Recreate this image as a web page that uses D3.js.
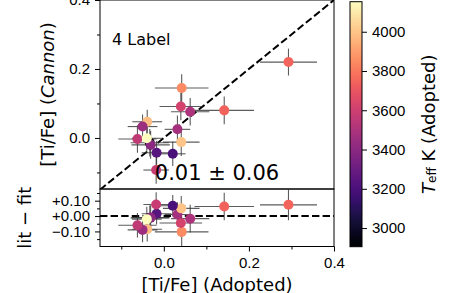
<!DOCTYPE html>
<html>
<head>
<meta charset="utf-8">
<script src="https://cdnjs.cloudflare.com/ajax/libs/d3/7.8.5/d3.min.js"></script>
<style>
	body { margin: 0; background: #fff; }
	svg { display: block; font-family: "DejaVu Sans", sans-serif; }
</style>
</head>
<body>
<div id="chart"></div>
<script>
// values
var litVals    = [0.293, 0.142, 0.042, 0.040, 0.062, 0.032, 0.041, 0.021, -0.017, -0.033, -0.031, -0.039, -0.050, -0.062, -0.040, -0.018];
var cannonVals = [0.220, 0.080, 0.145, 0.091, 0.076, 0.025, -0.012, -0.046, -0.043, -0.014, -0.020, 0.047, 0.033, -0.003, -0.001, -0.093];
var litErr     = [0.067, 0.070, 0.063, 0.050, 0.045, 0.030, 0.043, 0.030, 0.035, 0.045, 0.045, 0.035, 0.035, 0.045, 0.035, 0.030];
var cannonErr  = [0.039, 0.040, 0.040, 0.040, 0.040, 0.040, 0.040, 0.035, 0.035, 0.040, 0.040, 0.035, 0.035, 0.040, 0.040, 0.040];
var residVals  = [0.073, 0.062, -0.103, -0.045, -0.017, 0.010, 0.050, 0.067, 0.015, -0.012, -0.010, -0.086, -0.090, -0.060, -0.020, 0.075];
var residErr   = [0.100, 0.090, 0.100, 0.090, 0.090, 0.080, 0.080, 0.070, 0.070, 0.080, 0.080, 0.080, 0.080, 0.080, 0.080, 0.080];
var teffVals   = [3750, 3740, 3850, 3620, 3500, 3480, 4000, 3200, 3240, 2905, 3400, 3980, 3450, 3560, 4153, 3580];

var xTicks = [0.0, 0.2, 0.4];
var xMinor = [-0.1, 0.1, 0.3];
var yTopTicks = [0.0, 0.2, 0.4];
var yTopMinor = [-0.1, 0.1, 0.3];
var yBotTicks = [0.10, 0.00, -0.10];
var yBotMinor = [0.15, 0.05, -0.05, -0.15];
var cbarTicks = [3000, 3200, 3400, 3600, 3800, 4000];
var statText = "0.01 \u00b1 0.06";
var panelText = "4 Label";

var W = 449, H = 293;
var left = 100, right = 334;
var topY = 0, split = 189, bottomY = 246.5;

var svg = d3.select("#chart").append("svg")
	.attr("width", W)
	.attr("height", H);

var x = d3.scaleLinear().domain([-0.15, 0.4]).range([left, right]);
var yTop = d3.scaleLinear().domain([-0.148, 0.4]).range([split, topY]);
var yBot = d3.scaleLinear().domain([-0.198, 0.176]).range([bottomY, split]);
var color = d3.scaleSequential(d3.interpolateMagma).domain([2905, 4153]);

var pts = litVals.map(function(d, i) {
	return {lit: d, can: cannonVals[i], le: litErr[i], ce: cannonErr[i],
		res: residVals[i], re: residErr[i], teff: teffVals[i]};
});

var defs = svg.append("defs");
defs.append("clipPath").attr("id", "clipTop")
	.append("rect").attr("x", left).attr("y", topY).attr("width", right - left).attr("height", split - topY);
defs.append("clipPath").attr("id", "clipBot")
	.append("rect").attr("x", left).attr("y", split).attr("width", right - left).attr("height", bottomY - split);

function panel(yScale, clip, yval, yerr, refLine) {
	var g = svg.append("g").attr("clip-path", "url(#" + clip + ")");

	g.append("line")
		.attr("x1", x(refLine[0][0])).attr("y1", yScale(refLine[0][1]))
		.attr("x2", x(refLine[1][0])).attr("y2", yScale(refLine[1][1]))
		.attr("stroke", "#000")
		.attr("stroke-width", 2)
		.attr("stroke-dasharray", "7.4,3.2");

	g.selectAll(".hbar").data(pts).enter().append("line")
		.attr("x1", function(d) { return x(d.lit - d.le); })
		.attr("x2", function(d) { return x(d.lit + d.le); })
		.attr("y1", function(d) { return yScale(yval(d)); })
		.attr("y2", function(d) { return yScale(yval(d)); })
		.attr("stroke", "#333").attr("stroke-opacity", 0.8).attr("stroke-width", 1.1);

	g.selectAll(".vbar").data(pts).enter().append("line")
		.attr("x1", function(d) { return x(d.lit); })
		.attr("x2", function(d) { return x(d.lit); })
		.attr("y1", function(d) { return yScale(yval(d) - yerr(d)); })
		.attr("y2", function(d) { return yScale(yval(d) + yerr(d)); })
		.attr("stroke", "#333").attr("stroke-opacity", 0.8).attr("stroke-width", 1.1);

	g.selectAll("circle").data(pts).enter().append("circle")
		.attr("cx", function(d) { return x(d.lit); })
		.attr("cy", function(d) { return yScale(yval(d)); })
		.attr("r", 5)
		.attr("fill", function(d) { return color(d.teff); });
}

panel(yTop, "clipTop", function(d) { return d.can; }, function(d) { return d.ce; }, [[-0.15, -0.15], [0.4, 0.4]]);
panel(yBot, "clipBot", function(d) { return d.res; }, function(d) { return d.re; }, [[-0.15, 0], [0.4, 0]]);

function styleAxis(g) {
	g.select(".domain").remove();
	g.selectAll("text").attr("font-size", "15px").attr("fill", "#000");
	g.selectAll("line").attr("stroke", "#000");
}

// y axes, top panel
svg.append("g")
	.attr("transform", "translate(" + left + ",0)")
	.call(d3.axisLeft(yTop).tickValues(yTopTicks).tickFormat(d3.format(".1f")).tickSize(5).tickPadding(5))
	.call(styleAxis);
svg.append("g")
	.attr("transform", "translate(" + left + ",0)")
	.call(d3.axisLeft(yTop).tickValues(yTopMinor).tickFormat("").tickSize(3))
	.call(styleAxis);

// y axes, bottom panel
svg.append("g")
	.attr("transform", "translate(" + left + ",0)")
	.call(d3.axisLeft(yBot).tickValues(yBotTicks).tickSize(5).tickPadding(5)
		.tickFormat(function(d) { return (d < 0 ? "\u2212" : "+") + Math.abs(d).toFixed(2); }))
	.call(styleAxis);
svg.append("g")
	.attr("transform", "translate(" + left + ",0)")
	.call(d3.axisLeft(yBot).tickValues(yBotMinor).tickFormat("").tickSize(3))
	.call(styleAxis);

// x axis, bottom
svg.append("g")
	.attr("transform", "translate(0," + bottomY + ")")
	.call(d3.axisBottom(x).tickValues(xTicks).tickFormat(d3.format(".1f")).tickSize(5).tickPadding(6))
	.call(styleAxis);
svg.append("g")
	.attr("transform", "translate(0," + bottomY + ")")
	.call(d3.axisBottom(x).tickValues(xMinor).tickFormat("").tickSize(3))
	.call(styleAxis);

// frames
svg.append("rect")
	.attr("x", left).attr("y", topY)
	.attr("width", right - left).attr("height", split - topY)
	.attr("fill", "none").attr("stroke", "#000").attr("stroke-width", 1);
svg.append("rect")
	.attr("x", left).attr("y", split)
	.attr("width", right - left).attr("height", bottomY - split)
	.attr("fill", "none").attr("stroke", "#000").attr("stroke-width", 1);

// annotations
svg.append("text")
	.attr("x", 112).attr("y", 45)
	.attr("font-size", "16px")
	.text(panelText);
svg.append("text")
	.attr("x", 217).attr("y", 180)
	.attr("text-anchor", "middle")
	.attr("font-size", "21px")
	.text(statText);

// axis labels
var yl = svg.append("text")
	.attr("transform", "translate(47," + ((topY + split) / 2) + ") rotate(-90)")
	.attr("text-anchor", "middle")
	.attr("dominant-baseline", "central")
	.attr("font-size", "18px");
yl.append("tspan").text("[Ti/Fe] (");
yl.append("tspan").attr("font-style", "italic").text("Cannon");
yl.append("tspan").text(")");

svg.append("text")
	.attr("transform", "translate(24," + ((split + bottomY) / 2) + ") rotate(-90)")
	.attr("text-anchor", "middle")
	.attr("dominant-baseline", "central")
	.attr("font-size", "18px")
	.text("lit \u2212 fit");

svg.append("text")
	.attr("x", (left + right) / 2).attr("y", 291)
	.attr("text-anchor", "middle")
	.attr("font-size", "18px")
	.text("[Ti/Fe] (Adopted)");

// colorbar
var cbX = 350, cbW = 12, cbTop = 1.7, cbBot = 246.7;
var cy = d3.scaleLinear().domain(color.domain()).range([cbBot, cbTop]);
var grad = defs.append("linearGradient").attr("id", "cbGrad")
	.attr("x1", 0).attr("y1", 1).attr("x2", 0).attr("y2", 0);
grad.selectAll("stop").data(d3.range(0, 1.0001, 0.02)).enter().append("stop")
	.attr("offset", function(d) { return d; })
	.attr("stop-color", function(d) { return d3.interpolateMagma(d); });
svg.append("rect")
	.attr("x", cbX).attr("y", cbTop)
	.attr("width", cbW).attr("height", cbBot - cbTop)
	.attr("fill", "url(#cbGrad)")
	.attr("stroke", "#000").attr("stroke-width", 1);
svg.append("g")
	.attr("transform", "translate(" + (cbX + cbW) + ",0)")
	.call(d3.axisRight(cy).tickValues(cbarTicks).tickFormat(d3.format("d")).tickSize(5).tickPadding(5))
	.call(styleAxis);

var cl = svg.append("text")
	.attr("transform", "translate(428," + ((cbTop + cbBot) / 2) + ") rotate(-90)")
	.attr("text-anchor", "middle")
	.attr("dominant-baseline", "central")
	.attr("font-size", "18px");
cl.append("tspan").attr("font-style", "italic").text("T");
cl.append("tspan").attr("font-size", "12px").attr("dy", 4).text("eff");
cl.append("tspan").attr("dy", -4).text(" K (Adopted)");
</script>
</body>
</html>
